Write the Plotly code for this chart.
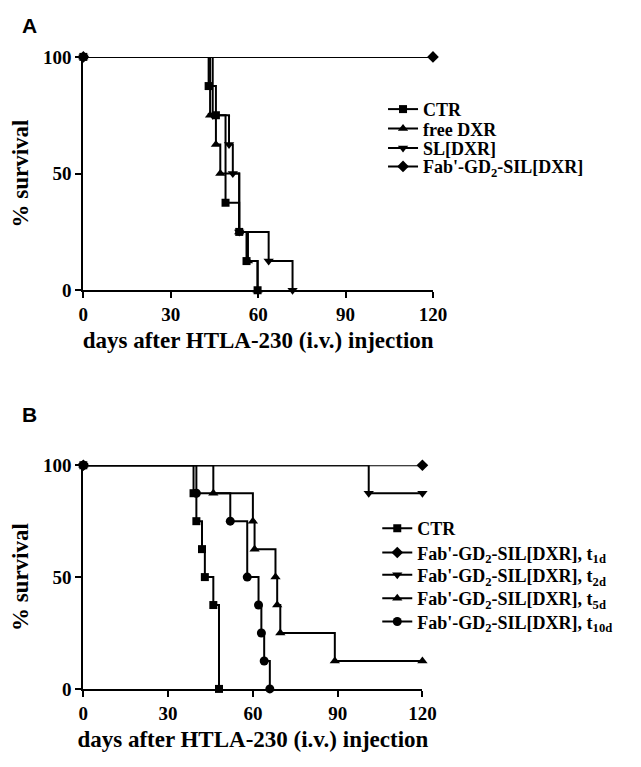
import plotly.graph_objects as go

# ---------------- data: panel A ----------------
a_ctr_days = [0, 43, 45.5, 48.8, 53.5, 56, 59.8]
a_ctr_surv = [100, 87.5, 75, 37.5, 25, 12.5, 0]
a_dxr_days = [0, 43.5, 45.5, 47, 53.5, 56.5, 59.8]
a_dxr_surv = [100, 75, 62.5, 50, 25, 12.5, 0]
a_sl_days = [0, 44.4, 50, 51.3, 53.5, 63.6, 71.8]
a_sl_surv = [100, 75, 62.5, 50, 25, 12.5, 0]
a_fab_days = [0, 120]
a_fab_surv = [100, 100]

# ---------------- data: panel B ----------------
b_ctr_days = [0, 39, 40, 42, 43, 46, 48]
b_ctr_surv = [100, 87.5, 75, 62.5, 50, 37.5, 0]
b_t1_days = [0, 120]
b_t1_surv = [100, 100]
b_t2_days = [0, 101, 120]
b_t2_surv = [100, 87.5, 87.5]
b_t5_days = [0, 46, 60, 60.6, 68, 68.6, 69.7, 89, 120]
b_t5_surv = [100, 87.5, 75, 62.5, 50, 37.5, 25, 12.5, 12.5]
b_t10_days = [0, 40, 52, 58, 62, 63, 64, 66]
b_t10_surv = [100, 87.5, 75, 50, 37.5, 25, 12.5, 0]

x_ticks = [0, 30, 60, 90, 120]
y_ticks = [0, 50, 100]

labels_a = ["CTR", "free DXR", "SL[DXR]", "Fab'-GD<sub>2</sub>-SIL[DXR]"]
labels_b = ["CTR",
            "Fab'-GD<sub>2</sub>-SIL[DXR], t<sub>1d</sub>",
            "Fab'-GD<sub>2</sub>-SIL[DXR], t<sub>2d</sub>",
            "Fab'-GD<sub>2</sub>-SIL[DXR], t<sub>5d</sub>",
            "Fab'-GD<sub>2</sub>-SIL[DXR], t<sub>10d</sub>"]

# page has an 8px body margin: size the plot to fill the rest of the window
OFF = 8
W, H = 641 - OFF, 767 - OFF
SERIF = "Liberation Serif"


def fx(px):
    return (px - OFF) / W


def fy(py):
    return 1 - (py - OFF) / H


fig = go.Figure()


def add(days, surv, name, symbol, size, xa, ya, legend, rank):
    fig.add_trace(go.Scatter(
        x=days, y=surv, name=name, mode="lines+markers",
        line=dict(shape="hv", color="black", width=2),
        marker=dict(symbol=symbol, size=size, color="black"),
        xaxis=xa, yaxis=ya, legend=legend, legendrank=rank,
        showlegend=True, cliponaxis=False))


# draw in reverse so CTR sits on top
add(a_fab_days, a_fab_surv, labels_a[3], "diamond", 9, "x", "y", "legend4", 4)
add(a_sl_days, a_sl_surv, labels_a[2], "triangle-down", 9, "x", "y", "legend3", 3)
add(a_dxr_days, a_dxr_surv, labels_a[1], "triangle-up", 9, "x", "y", "legend2", 2)
add(a_ctr_days, a_ctr_surv, labels_a[0], "square", 8, "x", "y", "legend", 1)

add(b_t10_days, b_t10_surv, labels_b[4], "circle", 9, "x2", "y2", "legend9", 5)
add(b_t5_days, b_t5_surv, labels_b[3], "triangle-up", 9, "x2", "y2", "legend8", 4)
add(b_t2_days, b_t2_surv, labels_b[2], "triangle-down", 9, "x2", "y2", "legend7", 3)
add(b_t1_days, b_t1_surv, labels_b[1], "diamond", 9, "x2", "y2", "legend6", 2)
add(b_ctr_days, b_ctr_surv, labels_b[0], "square", 8, "x2", "y2", "legend5", 1)

tickfont = dict(family=SERIF, size=19, color="black", weight="bold")
titlefont = dict(family=SERIF, size=23, color="black", weight="bold")


def xaxis(domain, anchor):
    return dict(domain=domain, anchor=anchor, range=[0, 120], tickvals=x_ticks,
                showgrid=False, zeroline=False, showline=True, linecolor="black",
                linewidth=2, ticks="outside", ticklen=6, tickwidth=2, tickcolor="black",
                tickfont=tickfont,
                title=dict(text="days after HTLA-230 (i.v.) injection", font=titlefont, standoff=8))


def yaxis(domain, anchor):
    return dict(domain=domain, anchor=anchor, range=[0, 100], tickvals=y_ticks,
                showgrid=False, zeroline=False, showline=True, linecolor="black",
                linewidth=2, ticks="outside", ticklen=6, tickwidth=2, tickcolor="black",
                tickfont=tickfont,
                title=dict(text="% survival", font=titlefont, standoff=19))


legfont = dict(family=SERIF, size=18, color="black", weight="bold")


def leg(x_px, y_px):
    return dict(x=fx(x_px), y=fy(y_px), xanchor="left", yanchor="middle",
                font=legfont, bgcolor="rgba(0,0,0,0)", itemwidth=30,
                borderwidth=0, visible=True)


legend_rows_a = [102, 122, 142, 161]
legend_rows_b = [533, 558, 581, 605, 629]

layout = dict(
    width=W, height=H, margin=dict(l=0, r=0, t=0, b=0),
    paper_bgcolor="white", plot_bgcolor="white", showlegend=True,
    xaxis=xaxis([fx(75), fx(439)], "y"),
    yaxis=yaxis([fy(288), fy(48)], "x"),
    xaxis2=xaxis([fx(75), fx(428)], "y2"),
    yaxis2=yaxis([fy(698), fy(468)], "x2"),
    annotations=[
        dict(text="<b>A</b>", x=fx(9), y=fy(16), xref="paper", yref="paper",
             xanchor="left", yanchor="middle", showarrow=False,
             font=dict(family="Liberation Sans", size=21, color="black")),
        dict(text="<b>B</b>", x=fx(9), y=fy(416), xref="paper", yref="paper",
             xanchor="left", yanchor="middle", showarrow=False,
             font=dict(family="Liberation Sans", size=21, color="black")),
    ],
)
names = ["legend", "legend2", "legend3", "legend4"]
for n, r in zip(names, legend_rows_a):
    layout[n] = leg(387, r)
names = ["legend5", "legend6", "legend7", "legend8", "legend9"]
for n, r in zip(names, legend_rows_b):
    layout[n] = leg(381, r)

fig.update_layout(**layout)

fig.write_html("out.html")
